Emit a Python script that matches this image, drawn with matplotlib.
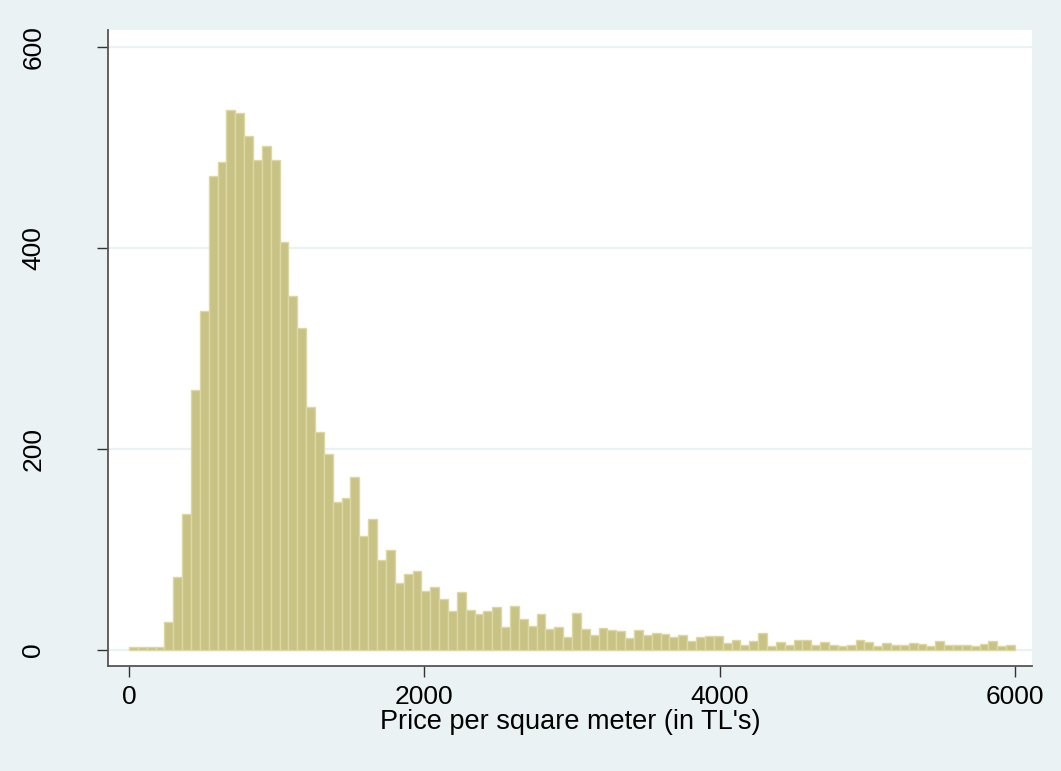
import numpy as np
import matplotlib
matplotlib.use('Agg')
import matplotlib.pyplot as plt

plt.rcParams['font.family'] = ['Liberation Sans', 'DejaVu Sans']

# histogram: 100 bins of width 60 starting at 0
bin_start = 0
bin_width = 60
counts = [3, 3, 3, 3,
          28, 73, 135, 259, 337, 472, 486, 537, 534, 511, 488, 502, 488, 406, 352, 320, 242, 217,
          195, 147, 151, 172, 113, 130, 89, 99, 67, 76, 79, 59, 63, 51, 39, 58, 40, 36, 39, 43,
          23, 44, 31, 24, 36, 21, 23, 13, 37, 21, 15, 22, 20, 19, 12, 20, 15, 17, 16, 13, 15,
          9, 13, 14, 14, 7, 10, 5, 9, 17, 4, 8, 5, 10, 10, 5, 8, 5, 4, 5, 10,
          8, 4, 7, 5, 5, 7, 6, 4, 9, 5, 5, 5, 4, 6, 9, 4, 5]
x_ticks = [0, 2000, 4000, 6000]
y_ticks = [0, 200, 400, 600]
x_label = "Price per square meter (in TL's)"

bg = '#eaf2f3'
fig = plt.figure(figsize=(10.61, 7.71), dpi=100, facecolor=bg)
ax = fig.add_axes([0.1015, 0.1362, 0.8712, 0.8249])
ax.set_facecolor('white')

lefts = bin_start + bin_width * np.arange(len(counts))
ax.bar(lefts, counts, width=bin_width, align='edge', color='#c9c285',
       edgecolor='#dcd8a4', linewidth=1.0, zorder=3)

ax.set_xlim(-144, 6115)
ax.set_ylim(-16, 617)
ax.set_xticks(x_ticks)
ax.set_yticks(y_ticks)
ax.yaxis.grid(True, color=bg, linewidth=1.6, zorder=0)
ax.set_axisbelow(True)

for s in ['top', 'right']:
    ax.spines[s].set_visible(False)
for s in ['left', 'bottom']:
    ax.spines[s].set_color('#555555')
    ax.spines[s].set_linewidth(1.3)

ax.tick_params(axis='both', direction='out', length=8, width=1.0, color='#333333',
               labelsize=19, labelcolor='black')
ax.tick_params(axis='x', pad=6)
ax.tick_params(axis='y', pad=37, labelrotation=90)
for lab in ax.get_yticklabels():
    lab.set_va('center')

ax.set_xlabel(x_label, fontsize=19.5, labelpad=0)

fig.savefig('out.png', dpi=100, facecolor=bg)
